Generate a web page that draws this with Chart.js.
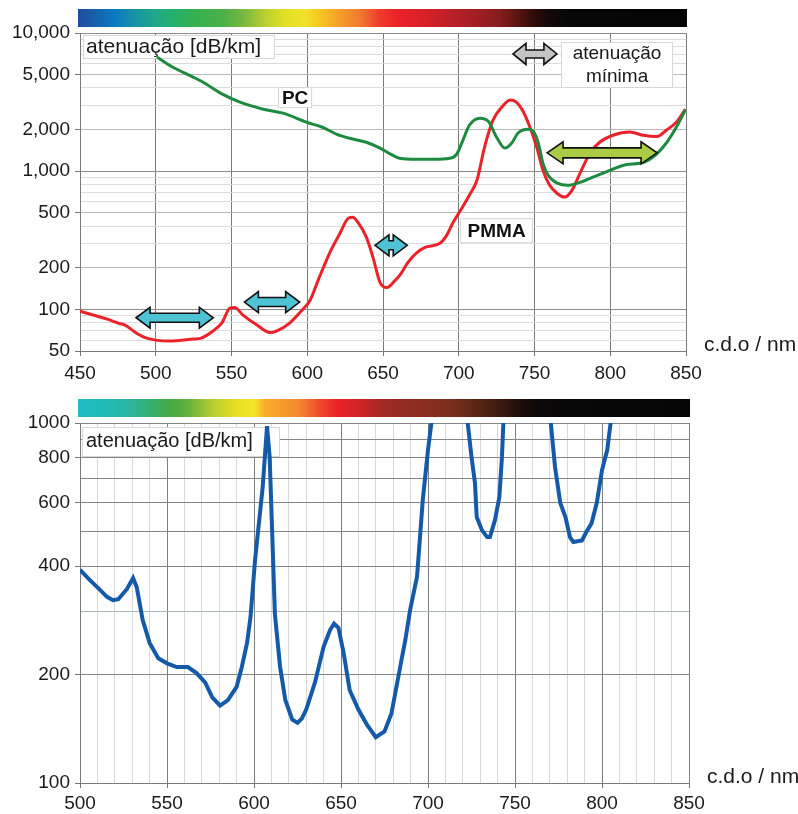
<!DOCTYPE html>
<html>
<head>
<meta charset="utf-8">
<script src="https://cdn.jsdelivr.net/npm/chart.js@4.4.1/dist/chart.umd.min.js"></script>
<style>
  html, body { margin: 0; padding: 0; background: #fff; }
  #wrap { position: relative; width: 798px; height: 814px; }
  canvas { position: absolute; left: 0; display: block; }
  #topCanvas { top: 0; }
  #bottomCanvas { top: 395px; }
</style>
</head>
<body>
<div id="wrap">
  <canvas id="topCanvas" width="798" height="395"></canvas>
  <canvas id="bottomCanvas" width="798" height="419"></canvas>
</div>
<script>
// ---- Upper panel: PC and PMMA fibres, attenuation vs wavelength (nm) ----
const pcWavelength = [500.8, 511, 524.6, 531, 544, 555.6, 571, 584, 599.7, 610, 619.6, 628, 639, 648, 655, 661, 672, 683, 694, 698.7, 702.8, 707, 714, 719.5, 725, 730.5, 735, 739, 745.7, 749, 752.5, 755.6, 759, 765, 772, 780, 788.6, 799.8, 811, 819.6, 828, 837, 843.6, 849.6];
const pcAttenuation = [6700, 5680, 4800, 4420, 3610, 3160, 2810, 2630, 2260, 2080, 1850, 1730, 1620, 1470, 1330, 1240, 1220, 1220, 1240, 1330, 1680, 2150, 2420, 2300, 1760, 1470, 1600, 1880, 2010, 1950, 1600, 1140, 935, 820, 790, 830, 905, 1015, 1120, 1140, 1260, 1600, 2080, 2770];

const pmmaWavelength = [450, 458.6, 468, 476, 479.7, 487.6, 494, 509, 524.6, 530, 538, 543.7, 549, 552, 557.6, 566.8, 575.4, 580, 588.6, 597, 601.8, 608, 615, 621.6, 627, 630, 633.5, 639, 643.4, 648, 652.6, 658, 661, 666.5, 672, 677.7, 687.6, 692, 696, 702, 707, 712, 717, 722.6, 728.5, 734, 738, 742, 747, 751.5, 755.6, 760, 765, 770, 774.7, 780, 786.6, 793, 801.8, 813, 821.6, 830.8, 837, 843.6, 849.6];
const pmmaAttenuation = [97, 91, 85, 79, 77, 67, 62, 59, 61, 62, 70, 80, 102, 103, 91, 77, 68, 70, 80, 100, 116, 171, 259, 356, 456, 465, 426, 333, 238, 157, 144, 162, 176, 219, 255, 281, 301, 343, 420, 540, 670, 860, 1490, 2340, 2910, 3270, 3160, 2770, 2080, 1490, 1015, 790, 690, 650, 727, 965, 1350, 1620, 1820, 1920, 1820, 1780, 1980, 2260, 2810];

const topXTicks = [450, 500, 550, 600, 650, 700, 750, 800, 850];
const topYTickValues = [50, 100, 200, 500, 1000, 2000, 5000, 10000];
const topYTickLabels = ['50', '100', '200', '500', '1,000', '2,000', '5,000', '10,000'];

// transmission windows (nm ranges) and the level (dB/km) they are drawn at
const windowStart = [487, 558.5, 644.7];
const windowEnd = [538, 595, 666];
const windowLevel = [87, 113, 291];
const minimumStart = [735.8, 758.3];
const minimumEnd = [764.8, 830.9];
const minimumLevel = [7050, 1358];

// ---- Lower panel: single fibre, attenuation vs wavelength (nm) ----
const fiberWavelength = [500, 505.7, 511.5, 515.5, 519, 522, 527, 530.5, 532.6, 536, 540, 545, 550, 555.6, 562, 567, 572, 576, 580.5, 585, 590, 593, 596, 598, 600.6, 605, 607.5, 609, 612, 615, 618, 622, 625, 627.5, 630, 635, 640, 643.7, 646, 648.5, 651.5, 655, 660, 665, 670, 675, 679, 684, 687, 689.7, 693.7, 697, 700, 704, 712, 721, 725, 727, 728, 731, 734, 735.6, 738.5, 741, 742.5, 744, 757, 769, 773, 776, 779, 781.6, 783.5, 788.5, 791, 794, 797, 800, 803, 807, 812];
const fiberAttenuation = [391, 366, 344, 329, 322, 324, 346, 371, 350, 284, 245, 222, 215, 210, 210, 202, 190, 173, 164, 170, 185, 210, 245, 289, 416, 664, 980, 805, 295, 210, 170, 150, 147, 151, 160, 190, 239, 266, 277, 270, 230, 181, 160, 145, 134, 139, 156, 210, 250, 302, 374, 611, 841, 1200, 3000, 1200, 805, 681, 548, 504, 482, 482, 538, 622, 805, 1200, 3000, 1200, 755, 600, 548, 482, 467, 472, 498, 527, 600, 740, 841, 1200, 1800];

const bottomXTicks = [500, 550, 600, 650, 700, 750, 800, 850];
const bottomYTickValues = [100, 200, 400, 600, 800, 1000];
const bottomYTickLabels = ['100', '200', '400', '600', '800', '1000'];

// ---- colours of the visible spectrum bands ----
const topSpectrum = [
  [450, '#1d4f9e'], [462, '#1565b0'], [472, '#0b78c2'], [481, '#1588b0'], [490, '#1a9a9c'],
  [500, '#1fa888'], [510, '#22b070'], [525, '#35b050'], [545, '#4cb048'], [558, '#78b840'],
  [572, '#b8d030'], [585, '#e2e024'], [598, '#f0e22a'], [608, '#f8c820'], [620, '#f5a228'],
  [635, '#f07a30'], [648, '#ee3a2c'], [660, '#ec2228'], [680, '#d42028'], [695, '#bc2028'],
  [712, '#a01e24'], [727, '#861c1e'], [740, '#551410'], [750, '#2e0c08'], [760, '#140808'],
  [772, '#060606'], [850, '#050505']
];
const bottomSpectrum = [
  [500, '#1ebcc4'], [515, '#22bab8'], [530, '#2cb49a'], [542, '#38ae6a'], [552, '#44aa44'],
  [562, '#62b23e'], [575, '#b0cc30'], [590, '#e8e020'], [600, '#f4e42a'], [606, '#f8b02c'],
  [625, '#f38a2e'], [638, '#ef4a2c'], [648, '#ec2228'], [660, '#d02428'], [675, '#a02a24'],
  [690, '#8e2c20'], [712, '#7e2e1c'], [728, '#5a2614'], [742, '#3a1a0e'], [755, '#180c08'],
  [765, '#0a0808'], [850, '#050505']
];

const FONT = '"Liberation Sans", Arial, Helvetica, sans-serif';

function toPoints(xs, ys) { return xs.map((x, i) => ({ x: x, y: ys[i] })); }

// every 1..9 multiple within [lo, hi] for logarithmic grid lines
function logGrid(lo, hi) {
  const out = [];
  for (let d = 1; d <= 100000; d *= 10) {
    for (let m = 1; m <= 9; m++) {
      const v = m * d;
      if (v >= lo && v <= hi) out.push(v);
    }
  }
  return out;
}
function range(a, b, step) { const o = []; for (let v = a; v <= b + 1e-9; v += step) o.push(v); return o; }

function spectrumPlugin(stops) {
  return {
    id: 'spectrum',
    afterDraw(chart) {
      const { ctx, chartArea, scales } = chart;
      const x = scales.x;
      const left = x.getPixelForValue(x.min) - 2;
      const right = x.getPixelForValue(x.max) + 1;
      const g = ctx.createLinearGradient(left, 0, right, 0);
      stops.forEach(([nm, c]) => {
        const t = (x.getPixelForValue(nm) - left) / (right - left);
        g.addColorStop(Math.min(1, Math.max(0, t)), c);
      });
      ctx.save();
      ctx.fillStyle = g;
      ctx.fillRect(left, chartArea.top - 24, right - left, 18);
      ctx.restore();
    }
  };
}

function unitPlugin(dy) {
  return {
    id: 'unitText',
    afterDraw(chart) {
      const { ctx, chartArea } = chart;
      ctx.save();
      ctx.font = '21px ' + FONT;
      ctx.fillStyle = '#1a1a1a';
      ctx.textAlign = 'left';
      ctx.textBaseline = 'middle';
      ctx.fillText('c.d.o / nm', chartArea.right + 18, chartArea.bottom + dy);
      ctx.restore();
    }
  };
}

function drawBox(ctx, left, top, w, h) {
  ctx.fillStyle = '#ffffff';
  ctx.fillRect(left, top, w, h);
  ctx.strokeStyle = '#d6d6d6';
  ctx.lineWidth = 1;
  ctx.strokeRect(left + 0.5, top + 0.5, w - 1, h - 1);
}

function drawArrow(ctx, x1, x2, y, fill, shaftH, headH, headL) {
  ctx.beginPath();
  ctx.moveTo(x1, y);
  ctx.lineTo(x1 + headL, y - headH / 2);
  ctx.lineTo(x1 + headL, y - shaftH / 2);
  ctx.lineTo(x2 - headL, y - shaftH / 2);
  ctx.lineTo(x2 - headL, y - headH / 2);
  ctx.lineTo(x2, y);
  ctx.lineTo(x2 - headL, y + headH / 2);
  ctx.lineTo(x2 - headL, y + shaftH / 2);
  ctx.lineTo(x1 + headL, y + shaftH / 2);
  ctx.lineTo(x1 + headL, y + headH / 2);
  ctx.closePath();
  ctx.fillStyle = fill;
  ctx.fill();
  ctx.lineWidth = 1.6;
  ctx.lineJoin = 'miter';
  ctx.strokeStyle = '#111';
  ctx.stroke();
}

// text boxes that sit under the curves
const topLabels = {
  id: 'topLabels',
  beforeDatasetsDraw(chart) {
    const { ctx, chartArea, scales } = chart;
    const x = scales.x, y = scales.y;
    ctx.save();
    // axis quantity
    drawBox(ctx, chartArea.left + 3, chartArea.top + 2, 192, 24);
    ctx.font = '21px ' + FONT;
    ctx.fillStyle = '#1a1a1a';
    ctx.textBaseline = 'middle';
    ctx.textAlign = 'left';
    ctx.fillText('atenuação [dB/km]', chartArea.left + 6, chartArea.top + 14);

    // curve names
    ctx.font = 'bold 19px ' + FONT;
    ctx.textAlign = 'center';
    let cx = x.getPixelForValue(592), cy = y.getPixelForValue(3410);
    drawBox(ctx, cx - 17, cy - 10.5, 34, 21);
    ctx.fillStyle = '#111';
    ctx.fillText('PC', cx, cy + 1);

    cx = x.getPixelForValue(725); cy = y.getPixelForValue(371);
    drawBox(ctx, cx - 36.5, cy - 12.5, 73, 25);
    ctx.fillStyle = '#111';
    ctx.fillText('PMMA', cx, cy + 1);

    // minimum attenuation legend
    cx = x.getPixelForValue(804.5); cy = y.getPixelForValue(5864);
    drawBox(ctx, cx - 56, cy - 23, 112, 46);
    ctx.font = '19px ' + FONT;
    ctx.fillStyle = '#1a1a1a';
    ctx.fillText('atenuação', cx, cy - 11);
    ctx.fillText('mínima', cx, cy + 12);
    ctx.restore();
  }
};

// double arrows marking windows, drawn over the curves
const topArrows = {
  id: 'topArrows',
  afterDatasetsDraw(chart) {
    const { ctx, scales } = chart;
    const x = scales.x, y = scales.y;
    ctx.save();
    windowStart.forEach((s, i) => {
      drawArrow(ctx, x.getPixelForValue(s), x.getPixelForValue(windowEnd[i]),
        y.getPixelForValue(windowLevel[i]), '#4fc3d6', 9, 21, 14);
    });
    drawArrow(ctx, x.getPixelForValue(minimumStart[0]), x.getPixelForValue(minimumEnd[0]),
      y.getPixelForValue(minimumLevel[0]), '#c4c4c4', 8, 21, 13);
    drawArrow(ctx, x.getPixelForValue(minimumStart[1]), x.getPixelForValue(minimumEnd[1]),
      y.getPixelForValue(minimumLevel[1]), '#a9cc44', 10, 22, 16);
    ctx.restore();
  }
};

const bottomLabels = {
  id: 'bottomLabels',
  beforeDatasetsDraw(chart) {
    const { ctx, chartArea } = chart;
    ctx.save();
    drawBox(ctx, chartArea.left + 2, chartArea.top + 4, 198, 30);
    ctx.font = '20px ' + FONT;
    ctx.fillStyle = '#1a1a1a';
    ctx.textBaseline = 'middle';
    ctx.textAlign = 'left';
    ctx.fillText('atenuação [dB/km]', chartArea.left + 6, chartArea.top + 18);
    ctx.restore();
  }
};

const tickFont = { family: FONT, size: 19 };

new Chart(document.getElementById('topCanvas'), {
  type: 'line',
  data: {
    datasets: [
      {
        label: 'PC',
        data: toPoints(pcWavelength, pcAttenuation),
        borderColor: '#1d8a40',
        borderWidth: 3,
        pointRadius: 0,
        cubicInterpolationMode: 'monotone',
        fill: false
      },
      {
        label: 'PMMA',
        data: toPoints(pmmaWavelength, pmmaAttenuation),
        borderColor: '#ea2229',
        borderWidth: 3,
        pointRadius: 0,
        cubicInterpolationMode: 'monotone',
        fill: false
      }
    ]
  },
  options: {
    responsive: false,
    animation: false,
    events: [],
    layout: { padding: { top: 33, right: 112, bottom: 0, left: 0 } },
    plugins: { legend: { display: false }, tooltip: { enabled: false } },
    scales: {
      x: {
        type: 'linear',
        min: 450,
        max: 850,
        afterBuildTicks: s => { s.ticks = topXTicks.map(v => ({ value: v })); },
        afterFit: s => { s.height = 44; },
        ticks: { font: tickFont, color: '#1a1a1a', padding: 6, autoSkip: false, maxRotation: 0,
                 callback: v => String(v) },
        grid: { color: '#7a7a7a', lineWidth: 1, tickLength: 5, tickColor: '#7a7a7a' },
        border: { color: '#7a7a7a' }
      },
      y: {
        type: 'logarithmic',
        min: 50,
        max: 10000,
        afterBuildTicks: s => { s.ticks = logGrid(50, 10000).map(v => ({ value: v })); },
        afterFit: s => { s.width = 80; },
        ticks: {
          font: tickFont, color: '#1a1a1a', padding: 5, autoSkip: false,
          callback: v => { const i = topYTickValues.indexOf(v); return i >= 0 ? topYTickLabels[i] : ''; }
        },
        grid: {
          lineWidth: 1,
          tickLength: 5,
          color: c => {
            const v = c.tick.value;
            if (v === 100 || v === 1000 || v === 10000) return '#8c8c8c';
            if (topYTickValues.includes(v)) return '#b8b8b8';
            return '#dcdcdc';
          },
          tickColor: c => topYTickValues.includes(c.tick.value) ? '#7a7a7a' : 'rgba(0,0,0,0)'
        },
        border: { color: '#7a7a7a' }
      }
    }
  },
  plugins: [topLabels, topArrows, spectrumPlugin(topSpectrum), unitPlugin(-6)]
});

new Chart(document.getElementById('bottomCanvas'), {
  type: 'line',
  data: {
    datasets: [
      {
        label: 'atenuação',
        data: toPoints(fiberWavelength, fiberAttenuation),
        borderColor: '#145aa8',
        borderWidth: 4,
        pointRadius: 0,
        tension: 0,
        fill: false,
        clip: 0
      }
    ]
  },
  options: {
    responsive: false,
    animation: false,
    events: [],
    layout: { padding: { top: 28, right: 109, bottom: 0, left: 0 } },
    plugins: { legend: { display: false }, tooltip: { enabled: false } },
    scales: {
      x: {
        type: 'linear',
        min: 500,
        max: 850,
        afterBuildTicks: s => { s.ticks = range(500, 850, 10).map(v => ({ value: v })); },
        afterFit: s => { s.height = 31; },
        ticks: { font: tickFont, color: '#1a1a1a', padding: 4, autoSkip: false, maxRotation: 0,
                 callback: v => bottomXTicks.includes(v) ? String(v) : '' },
        grid: {
          lineWidth: 1,
          tickLength: 5,
          color: c => bottomXTicks.includes(c.tick.value) ? '#7e7e7e' : '#d6d8da',
          tickColor: c => bottomXTicks.includes(c.tick.value) ? '#7a7a7a' : 'rgba(0,0,0,0)'
        },
        border: { color: '#7a7a7a' }
      },
      y: {
        type: 'logarithmic',
        min: 100,
        max: 1000,
        afterBuildTicks: s => { s.ticks = range(100, 1000, 100).map(v => ({ value: v })); },
        afterFit: s => { s.width = 80; },
        ticks: {
          font: tickFont, color: '#1a1a1a', padding: 5, autoSkip: false,
          callback: v => { const i = bottomYTickValues.indexOf(v); return i >= 0 ? bottomYTickLabels[i] : ''; }
        },
        grid: {
          lineWidth: 1,
          tickLength: 5,
          color: c => c.tick.value === 300 ? '#a9b6bc' : '#858585',
          tickColor: c => bottomYTickValues.includes(c.tick.value) ? '#7a7a7a' : 'rgba(0,0,0,0)'
        },
        border: { color: '#7a7a7a' }
      }
    }
  },
  plugins: [bottomLabels, spectrumPlugin(bottomSpectrum), unitPlugin(-6)]
});
</script>
</body>
</html>
